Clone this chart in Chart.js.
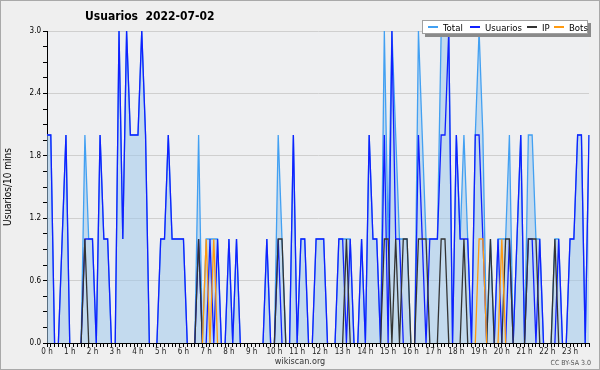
<!DOCTYPE html>
<html>
<head>
<meta charset="utf-8">
<script src="https://cdn.jsdelivr.net/npm/chart.js@4.4.1/dist/chart.umd.min.js"></script>
<style>
  html, body { margin: 0; padding: 0; background: #efefef; }
  .wrap { position: relative; width: 600px; height: 370px; background: #efefef; overflow: hidden;
          font-family: "DejaVu Sans Condensed", "DejaVu Sans", sans-serif; }
  .wrap canvas { position: absolute; left: 0; top: 0; }
  .frame { position: absolute; left: 0; top: 0; width: 598px; height: 368px; border: 1px solid #a9a9a9; pointer-events: none; }
  .title { position: absolute; left: 85px; top: 9px; font-weight: bold; font-size: 12px; white-space: pre; color: #000; }
  .legend { position: absolute; left: 422px; top: 20px; width: 166px; height: 14px; background: #fff;
            border: 1px solid #a0a0a0; box-shadow: 3px 3px 0 #8a8a8a; font-size: 9.5px; color: #000;
            box-sizing: border-box; }
  .legend span { position: absolute; top: 0; height: 12px; display: flex; align-items: center; white-space: nowrap; }
  .legend i { display: inline-block; width: 10px; height: 1.5px; margin-right: 5px; }
  .site { position: absolute; left: 0; width: 600px; top: 356px; text-align: center; font-size: 9px; color: #333; }
  .lic { position: absolute; right: 9px; top: 359px; font-size: 7px; color: #555; }
</style>
</head>
<body>
<div class="wrap">
  <canvas id="usersChart" width="600" height="370"></canvas>
  <div class="title">Usuarios  2022-07-02</div>
  <div class="legend" id="legend"></div>
  <div class="site">wikiscan.org</div>
  <div class="lic">CC BY-SA 3.0</div>
  <div class="frame"></div>
</div>
<script>
/* ================= DATA (one value per 10 minutes) ================= */
const hourLabels = ["0 h","1 h","2 h","3 h","4 h","5 h","6 h","7 h","8 h","9 h","10 h","11 h",
  "12 h","13 h","14 h","15 h","16 h","17 h","18 h","19 h","20 h","21 h","22 h","23 h"];

const total = [
  2,2,0,0,1,2,0,0,0,0,2,1,  1,0,2,1,1,0,0,3,1,3,2,2,
  2,3,2,0,0,0,1,1,2,1,1,1,  1,0,0,0,2,0,1,1,1,1,0,0,
  1,0,1,0,0,0,0,0,0,0,1,0,  0,2,1,0,0,2,0,1,1,0,0,1,
  1,1,0,0,0,1,1,1,1,0,0,1,  0,2,1,1,0,3,1,3,2,1,1,1,
  0,0,3,2,1,1,1,1,3,3,3,0,  2,1,2,1,0,2,3,2,0,1,0,1,
  1,1,2,0,1,2,0,2,2,1,1,0,  0,0,1,1,0,0,1,1,2,2,0,2
];
const usuarios = [
  2,2,0,0,1,2,0,0,0,0,1,1,  1,0,2,1,1,0,0,3,1,3,2,2,
  2,3,2,0,0,0,1,1,2,1,1,1,  1,0,0,0,1,0,0,1,0,1,0,0,
  1,0,1,0,0,0,0,0,0,0,1,0,  0,1,0,0,0,2,0,1,1,0,0,1,
  1,1,0,0,0,1,1,0,1,0,0,1,  0,2,1,1,0,2,0,3,1,1,0,0,
  0,0,2,1,0,1,1,1,2,2,3,0,  2,1,1,1,0,2,2,1,0,0,0,1,
  0,0,1,0,1,2,0,1,1,0,1,0,  0,0,0,1,0,0,1,1,2,2,0,2
];
const ip = [
  0,0,0,0,0,0,0,0,0,0,1,0,  0,0,0,0,0,0,0,0,0,0,0,0,
  0,0,0,0,0,0,0,0,0,0,0,0,  0,0,0,0,1,0,0,0,0,0,0,0,
  0,0,0,0,0,0,0,0,0,0,0,0,  0,1,1,0,0,0,0,0,0,0,0,0,
  0,0,0,0,0,0,0,1,0,0,0,0,  0,0,0,0,0,1,1,0,1,0,1,1,
  0,0,1,1,1,0,0,0,1,1,0,0,  0,0,1,0,0,0,0,0,0,1,0,0,
  0,1,1,0,0,0,0,1,1,1,0,0,  0,0,1,0,0,0,0,0,0,0,0,0
];
const bots = [
  0,0,0,0,0,0,0,0,0,0,0,0,  0,0,0,0,0,0,0,0,0,0,0,0,
  0,0,0,0,0,0,0,0,0,0,0,0,  0,0,0,0,0,0,1,0,1,0,0,0,
  0,0,0,0,0,0,0,0,0,0,0,0,  0,0,0,0,0,0,0,0,0,0,0,0,
  0,0,0,0,0,0,0,0,0,0,0,0,  0,0,0,0,0,0,0,0,0,0,0,0,
  0,0,0,0,0,0,0,0,0,0,0,0,  0,0,0,0,0,0,1,1,0,0,0,0,
  1,0,0,0,0,0,0,0,0,0,0,0,  0,0,0,0,0,0,0,0,0,0,0,0
];

/* ================= SETUP ================= */
const slots = total.map((_, i) => i); // 10-min slots, 6 per hour

Chart.defaults.font.family = '"DejaVu Sans Condensed", "DejaVu Sans", sans-serif';

const series = [
  { label: "Total", data: total, color: "#42a0f2", fill: "origin", order: 3 },
  { label: "Usuarios", data: usuarios, color: "#1020ff", fill: false, order: 2 },
  { label: "IP", data: ip, color: "#333333", fill: false, order: 1 },
  { label: "Bots", data: bots, color: "#ff9a10", fill: false, order: 0 },
];
const legendLeft = [5, 47, 104, 131]; // legend item offsets in the box

const plotBg = {
  id: "plotBg",
  beforeDraw(chart) {
    const { ctx, chartArea: a } = chart;
    ctx.save();
    ctx.fillStyle = "#eeeff1";
    ctx.fillRect(a.left, a.top, a.right - a.left, a.bottom - a.top);
    ctx.restore();
  },
};

const isMajor = (v) => Math.abs(v / 0.6 - Math.round(v / 0.6)) < 1e-6;

// segments lying on the zero line stay hidden behind the x axis
const zeroSeg = (c, color) => (c.p0.parsed.y === 0 && c.p1.parsed.y === 0 ? "rgba(0,0,0,0)" : color);

new Chart(document.getElementById("usersChart"), {
  type: "line",
  data: {
    labels: slots,
    datasets: series.map((s) => ({
      label: s.label,
      data: s.data,
      borderColor: s.color,
      backgroundColor: "rgba(160,200,235,0.55)",
      fill: s.fill,
      order: s.order,
      borderWidth: 1.3,
      pointRadius: 0,
      tension: 0,
      segment: { borderColor: (c) => zeroSeg(c, s.color) },
    })),
  },
  options: {
    responsive: false,
    animation: false,
    layout: { padding: { left: 2, top: 31, right: 11, bottom: 0 } },
    plugins: { legend: { display: false }, tooltip: { enabled: false } },
    scales: {
      x: {
        type: "category",
        offset: false,
        border: { color: "#000" },
        grid: { drawOnChartArea: false, tickLength: 4, tickColor: "#000" },
        ticks: {
          autoSkip: false,
          maxRotation: 0,
          padding: 0,
          color: "#222",
          font: { size: 8 },
          callback: (v, i) => (i % 6 === 0 ? hourLabels[i / 6] : ""),
        },
        afterFit: (s) => { s.height = 27; },
      },
      y: {
        min: 0,
        max: 3,
        border: { color: "#000" },
        grid: {
          color: (c) => (c.tick && isMajor(c.tick.value) ? "#cfcfcf" : "rgba(0,0,0,0)"),
          tickColor: "#000",
          tickLength: 4,
        },
        ticks: {
          stepSize: 0.15,
          autoSkip: false,
          padding: 2,
          color: "#000",
          font: { size: 8 },
          callback: (v) => (isMajor(v) ? v.toFixed(1) : ""),
        },
        title: { display: true, text: "Usuarios/10 mins", color: "#000", font: { size: 10 }, padding: 0 },
        afterFit: (s) => { s.width = 45; },
      },
    },
  },
  plugins: [plotBg],
});

// legend
const legendEl = document.getElementById("legend");
series.forEach((s, k) => {
  const item = document.createElement("span");
  item.style.left = legendLeft[k] + "px";
  const mark = document.createElement("i");
  mark.style.background = s.color;
  item.appendChild(mark);
  item.appendChild(document.createTextNode(s.label));
  legendEl.appendChild(item);
});
</script>
</body>
</html>
